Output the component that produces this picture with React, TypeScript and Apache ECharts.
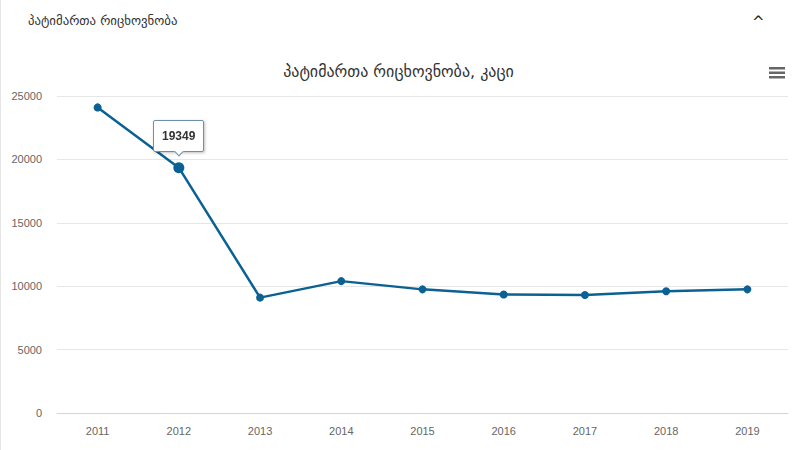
import React, { useEffect, useRef } from "react";
import * as echarts from "echarts";

const years = ["2011", "2012", "2013", "2014", "2015", "2016", "2017", "2018", "2019"];
const prisoners = [24100, 19349, 9100, 10400, 9750, 9350, 9300, 9600, 9750];
const yTicks = { min: 0, max: 25000, interval: 5000 };
const headerText = "პატიმართა რიცხოვნობა";
const chartTitle = "პატიმართა რიცხოვნობა, კაცი";
const highlightIndex = 1;

export default function App() {
  const ref = useRef<HTMLDivElement>(null);
  useEffect(() => {
    document.body.style.margin = "0";
    if (!ref.current) return;
    const chart = echarts.init(ref.current, null, { renderer: "svg" });
    const lineColor = "#0b6193";
    chart.setOption({
      animation: false,
      backgroundColor: "#fff",
      title: {
        text: chartTitle,
        left: "center",
        top: 58,
        textStyle: { fontFamily: "DejaVu Sans", fontSize: 16, fontWeight: "normal", color: "#333" },
      },
      tooltip: {
        trigger: "item",
        triggerOn: "none",
        alwaysShowContent: true,
        position: "top",
        backgroundColor: "#fff",
        borderColor: "#6e8fa8",
        borderWidth: 1,
        padding: [6, 8],
        extraCssText: "box-shadow: 1px 1px 3px rgba(0,0,0,0.25); border-radius: 2px;",
        textStyle: { fontFamily: "Arial, Liberation Sans", fontSize: 12, fontWeight: "bold", color: "#333" },
        formatter: (p: any) => String(p.value),
      },
      grid: { left: 57, right: 9, top: 96, bottom: 37, containLabel: false },
      xAxis: {
        type: "category",
        data: years,
        boundaryGap: true,
        axisLine: { lineStyle: { color: "#ccd6eb" } },
        axisTick: { show: false },
        axisLabel: { color: "#666", fontSize: 11, fontFamily: "Liberation Sans", margin: 12 },
      },
      yAxis: {
        type: "value",
        min: yTicks.min,
        max: yTicks.max,
        interval: yTicks.interval,
        axisLine: { show: false },
        axisTick: { show: false },
        axisLabel: {
          color: "#666",
          fontSize: 11,
          fontFamily: "Liberation Sans",
          margin: 15,
          formatter: (v: number) => String(v),
        },
        splitLine: { lineStyle: { color: "#e6e6e6" } },
      },
      graphic: [
        {
          type: "text",
          left: 28,
          top: 14,
          style: { text: headerText, fontFamily: "DejaVu Sans", fontSize: 12.8, fill: "#333" },
        },
        {
          type: "text",
          left: 752,
          top: 14,
          style: { text: "^", fontFamily: "DejaVu Sans", fontSize: 15, fill: "#222" },
        },
        {
          type: "rect",
          left: 0,
          top: 0,
          shape: { width: 1, height: 450 },
          style: { fill: "#e6e6e6" },
        },
        {
          type: "group",
          left: 769,
          top: 67,
          children: [
            { type: "rect", shape: { x: 0, y: 0, width: 16, height: 2.5 }, style: { fill: "#666" } },
            { type: "rect", shape: { x: 0, y: 4.5, width: 16, height: 2.5 }, style: { fill: "#666" } },
            { type: "rect", shape: { x: 0, y: 9, width: 16, height: 2.5 }, style: { fill: "#666" } },
          ],
        },
      ],
      series: [
        {
          type: "line",
          data: prisoners.map((v, i) =>
            i === highlightIndex ? { value: v, symbolSize: 11 } : v
          ),
          symbol: "circle",
          symbolSize: 8,
          lineStyle: { color: lineColor, width: 2.5 },
          itemStyle: { color: lineColor },
          emphasis: { disabled: true },
        },
      ],
    });
    chart.dispatchAction({ type: "showTip", seriesIndex: 0, dataIndex: highlightIndex });
    return () => chart.dispose();
  }, []);
  return <div ref={ref} style={{ width: 797, height: 450 }} />;
}
